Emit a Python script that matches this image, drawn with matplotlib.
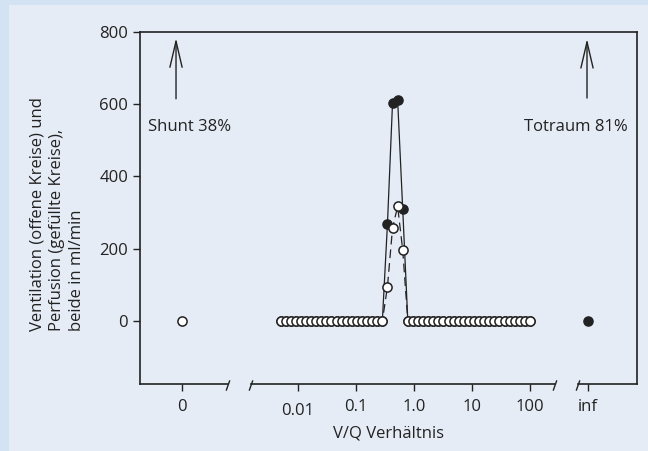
import numpy as np
import matplotlib
matplotlib.use('Agg')
import matplotlib.pyplot as plt
from matplotlib.patches import Rectangle

# V/Q compartments (log spaced, 0.005 .. 100)
vq = [0.00500, 0.00612, 0.00749, 0.00917, 0.01122, 0.01373, 0.01681, 0.02057,
      0.02518, 0.03083, 0.03773, 0.04618, 0.05652, 0.06919, 0.08470, 0.1037,
      0.1269, 0.1553, 0.1901, 0.2327, 0.2848, 0.3486, 0.4267, 0.5223, 0.6393,
      0.7825, 0.9575, 1.172, 1.435, 1.756, 2.149, 2.630, 3.220, 3.941, 4.824,
      5.904, 7.227, 8.846, 10.83, 13.25, 16.22, 19.86, 24.30, 29.74, 36.40,
      44.56, 54.54, 66.75, 81.70, 100.0]
ventilation = [0, 0, 0, 0, 0, 0, 0, 0, 0, 0, 0, 0, 0, 0, 0, 0, 0, 0, 0, 0, 0,
               94, 257, 317, 196,
               0, 0, 0, 0, 0, 0, 0, 0, 0, 0, 0, 0, 0, 0, 0, 0, 0, 0, 0, 0,
               0, 0, 0, 0, 0]
perfusion = [0, 0, 0, 0, 0, 0, 0, 0, 0, 0, 0, 0, 0, 0, 0, 0, 0, 0, 0, 0, 0,
             268, 604, 612, 309,
             0, 0, 0, 0, 0, 0, 0, 0, 0, 0, 0, 0, 0, 0, 0, 0, 0, 0, 0, 0,
             0, 0, 0, 0, 0]
shunt_vent = 0      # open circle at V/Q = 0
deadspace_perf = 0  # filled circle at V/Q = inf

xtick_labels = ['0', '0.1', '1.0', '10', '100', 'inf']
xtick_values = [0, 0.1, 1.0, 10, 100, np.inf]
yticks = [0, 200, 400, 600, 800]

# positions on the broken axis (log10 decades, 0 and inf placed beside)
ZERO_POS = -4.0
INF_POS = 3.0


def xpos(v):
    if v == 0:
        return ZERO_POS
    if np.isinf(v):
        return INF_POS
    return np.log10(v)


plt.rcParams['font.family'] = ['Open Sans', 'DejaVu Sans']
plt.rcParams['font.size'] = 12

outer = '#d3e3f4'
panel = '#e6ecf6'
ink = '#222222'

fig = plt.figure(figsize=(6.48, 4.51), dpi=100, facecolor=outer)
fig.patches.append(Rectangle((9 / 648, 0), 1, 1 - 4.5 / 451, transform=fig.transFigure,
                             facecolor=panel, edgecolor='none', zorder=-10))

ax = fig.add_axes([140 / 648, (451 - 384) / 451, 497 / 648, 352 / 451])
ax.set_facecolor('none')

x = [xpos(v) for v in vq]
ax.plot(x, perfusion, '-', color=ink, lw=0.9, zorder=2)
ax.plot(x, ventilation, '--', color=ink, lw=0.9, dashes=(7, 4), zorder=2)
ax.plot(x, perfusion, 'o', ms=6.6, mfc=ink, mec=ink, mew=1.0, zorder=3)
ax.plot(x, ventilation, 'o', ms=6.6, mfc='white', mec=ink, mew=1.1, zorder=4)
ax.plot([xpos(0)], [shunt_vent], 'o', ms=6.6, mfc='white', mec=ink, mew=1.1, zorder=4)
ax.plot([xpos(np.inf)], [deadspace_perf], 'o', ms=6.6, mfc=ink, mec=ink, zorder=3)

xlo, xhi = -4.724, 3.845
ylo, yhi = -175, 800
ax.set_xlim(xlo, xhi)
ax.set_ylim(ylo, yhi)

ax.set_yticks(yticks)
ax.set_xticks([xpos(v) for v in xtick_values], xtick_labels)
ax.set_xticks([xpos(0.01)], ['0.01'], minor=True)
ax.tick_params(axis='both', which='both', direction='out', length=5, width=1,
               color=ink, labelcolor=ink)
ax.tick_params(axis='x', which='major', pad=6)
ax.tick_params(axis='x', which='minor', pad=9)

for s in ['left', 'right', 'top']:
    ax.spines[s].set_color(ink)
    ax.spines[s].set_linewidth(1.2)
ax.spines['bottom'].set_visible(False)

# broken bottom axis
breaks = [-3.207, -2.810, 2.431, 2.828]
segs = [(xlo, breaks[0]), (breaks[1], breaks[2]), (breaks[3], xhi)]
for a, b in segs:
    ax.plot([a, b], [ylo, ylo], color=ink, lw=1.2, clip_on=False, zorder=5)
dx = 1.6 / 58
dy = 975 / 352
for b in breaks:
    ax.plot([b - dx, b + dx], [ylo - 6 * dy, ylo + 3 * dy], color=ink, lw=1.0,
            clip_on=False, zorder=5)

arrow = dict(arrowstyle='->,head_length=0.94,head_width=0.22', color=ink, lw=1.0,
             shrinkA=0, shrinkB=0, mutation_scale=20)
ax.annotate('', xy=(-4.103, 783), xytext=(-4.103, 615), arrowprops=arrow)
ax.annotate('', xy=(2.983, 781), xytext=(2.983, 617), arrowprops=arrow)
ax.text(-4.586, 538, 'Shunt 38%', ha='left', va='center', color=ink)
ax.text(3.69, 538, 'Totraum 81%', ha='right', va='center', color=ink)

ax.set_xlabel('V/Q Verhältnis', color=ink, labelpad=4)
fig.text(57 / 648, 1 - 97 / 451,
         'Ventilation (offene Kreise) und\nPerfusion (gefüllte Kreise),\nbeide in ml/min',
         rotation=90, ha='center', va='top', multialignment='left', color=ink,
         linespacing=1.3)

fig.savefig('out.png', dpi=100, facecolor=outer)
